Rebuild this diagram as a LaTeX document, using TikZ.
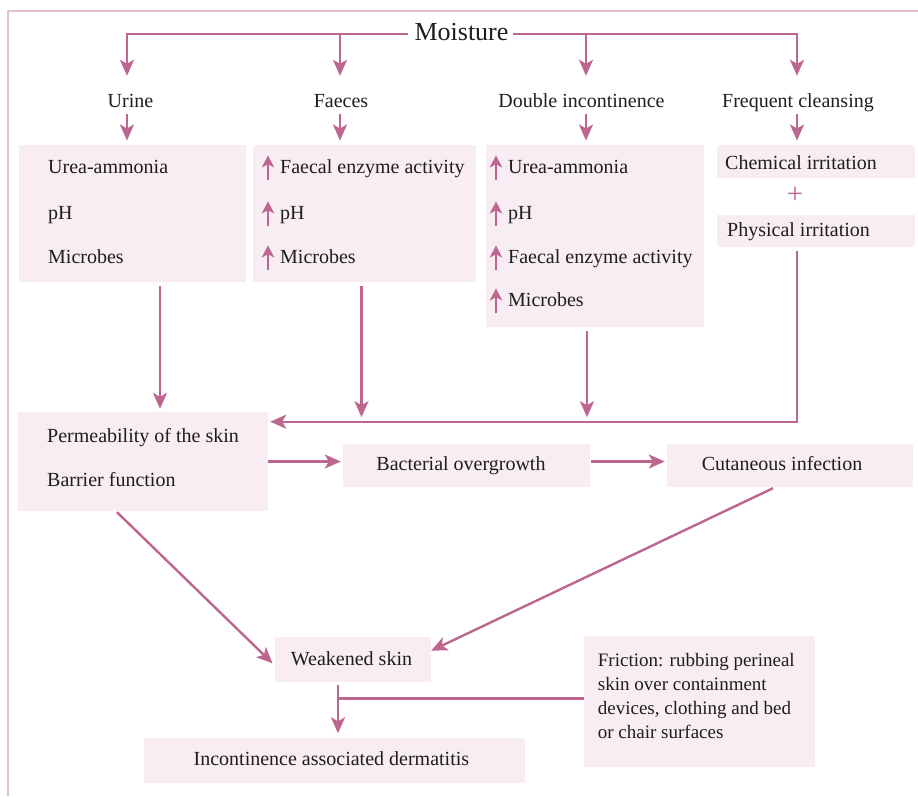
\documentclass[tikz,border=0pt]{standalone}
\usepackage{fontspec}
\setmainfont{Liberation Serif}
\usetikzlibrary{arrows.meta,calc}
\definecolor{pk}{HTML}{BC6690}
\definecolor{boxc}{HTML}{F7EDF3}
\definecolor{framec}{HTML}{E3BFD1}
\definecolor{ink}{HTML}{1E1E1E}
\begin{document}
\begin{tikzpicture}[x=1pt,y=-1pt,
  box/.style={fill=boxc, inner sep=0, draw=none},
  lbl/.style={font=\fontsize{20}{24}\selectfont, text=ink, inner sep=0, text height=14pt, text depth=5pt, anchor=base},
  item/.style={font=\fontsize{20}{24}\selectfont, text=ink, inner sep=0, anchor=base west},
  conn/.style={draw=pk, line width=2.4pt, -{Stealth[length=16pt,width=14pt,inset=4pt]}},
  plain/.style={draw=pk, line width=2.4pt},
  uparr/.style={draw=pk, line width=2.6pt, -{Stealth[length=12pt,width=12pt,inset=3pt]}},
]
\useasboundingbox (0,0) rectangle (918,796);
% frame
\draw[framec, line width=1.3pt] (8,796) -- (8,11) -- (918,11);

% boxes
\node[box, minimum width=227pt, minimum height=137pt] (b1) at (132.5,213.5) {};
\node[box, minimum width=223pt, minimum height=137pt] (b2) at (364.5,213.5) {};
\node[box, minimum width=218pt, minimum height=182pt] (b3) at (595,236) {};
\node[box, minimum width=198pt, minimum height=33pt] (chem) at (816,161.5) {};
\node[box, minimum width=198pt, minimum height=32pt] (phys) at (816,231) {};
\node[box, minimum width=250pt, minimum height=99pt] (perm) at (143,461.5) {};
\node[box, minimum width=247pt, minimum height=43pt] (bact) at (466.5,465.5) {};
\node[box, minimum width=246pt, minimum height=43pt] (cut) at (790,465.5) {};
\node[box, minimum width=156pt, minimum height=45pt] (weak) at (353,659.5) {};
\node[box, minimum width=231pt, minimum height=131pt] (fric) at (699.5,701.5) {};
\node[box, minimum width=381pt, minimum height=45pt] (iad) at (334.5,760.5) {};

% labels
\node[lbl, font=\fontsize{26}{30}\selectfont, text height=18pt, text depth=6pt] (m) at (461.5,40) {Moisture};
\node[lbl] (u) at (130.5,107) {Urine};
\node[lbl] (f) at (341,107) {Faeces};
\node[lbl] (d) at (581.5,107) {Double incontinence};
\node[lbl] (fc) at (798,107) {Frequent cleansing};

% box 1
\node[item] (a1) at (48,173.3) {Urea-ammonia};
\node[item] (a2) at (48,219.3) {pH};
\node[item] (a3) at (48,263.3) {Microbes};
% box 2
\node[item] (f1) at (280,173.3) {Faecal enzyme activity};
\node[item] (f2) at (280,219.3) {pH};
\node[item] (f3) at (280,263.3) {Microbes};
% box 3
\node[item] (d1) at (508,173.3) {Urea-ammonia};
\node[item] (d2) at (508,219.3) {pH};
\node[item] (d3) at (508,263.3) {Faecal enzyme activity};
\node[item] (d4) at (508,306.3) {Microbes};
\foreach \n in {f1,f2,f3,d1,d2,d3,d4}
  \draw[uparr] ($(\n.base west)+(-12,7)$) -- ($(\n.base west)+(-12,-18)$);

% cleansing
\node[item] (chemt) at (725,169.3) {Chemical irritation};
\node[text=pk, inner sep=0, font=\fontsize{29}{29}\selectfont] (plus) at (795,195.5) {+};
\node[item] (physt) at (727,236.7) {Physical irritation};

% lower texts
\node[item] (p1) at (47,442.3) {Permeability of the skin};
\node[item] (p2) at (47,486.7) {Barrier function};
\node[lbl] (bactt) at (461,470) {Bacterial overgrowth};
\node[lbl] (cutt) at (782,470) {Cutaneous infection};
\node[lbl] (weakt) at (351.5,665.7) {Weakened skin};
\node[lbl] (iadt) at (331.4,765.7) {Incontinence associated dermatitis};
\node[font=\fontsize{19}{24.2}\selectfont, text=ink, inner sep=0, anchor=north west, align=left] (frict) at (597.7,652.7)
  {Friction: rubbing perineal\\skin over containment\\devices, clothing and bed\\or chair surfaces};

% coordinates
\coordinate (c1) at (127,34);
\coordinate (c2) at (340,34);
\coordinate (c3) at (586,34);
\coordinate (c4) at (797,34);
\coordinate (x1) at (160,0);
\coordinate (x2) at (361.5,0);
\coordinate (x3) at (587,0);
\coordinate (hl) at (0,421.7);
\coordinate (x5) at (338,0);
\coordinate (fj) at (338,698.3);

% moisture connectors
\draw[conn, shorten <=6pt, shorten >=17pt] (m.west |- c1) -| (c1 |- u.north);
\draw[conn, shorten <=4.5pt, shorten >=17pt] (m.east |- c4) -| (c4 |- fc.north);
\draw[conn, shorten >=17pt] (c2) -- (c2 |- f.north);
\draw[conn, shorten >=17pt] (c3) -- (c3 |- d.north);

% label to box
\draw[conn, shorten <=2pt, shorten >=4.3pt] (u.south -| c1) -- (b1.north -| c1);
\draw[conn, shorten <=2pt, shorten >=4.3pt] (f.south -| c2) -- (b2.north -| c2);
\draw[conn, shorten <=2pt, shorten >=4.3pt] (d.south -| c3) -- (b3.north -| c3);
\draw[conn, shorten <=2pt, shorten >=4.3pt] (fc.south -| c4) -- (chem.north -| c4);

% boxes to permeability
\draw[conn, shorten <=4pt, shorten >=3pt] (b1.south -| x1) -- (perm.north -| x1);
\draw[conn, shorten <=4pt, shorten >=4.5pt] (b2.south -| x2) -- (x2 |- hl);
\draw[conn, shorten <=4pt, shorten >=4.5pt] (b3.south -| x3) -- (x3 |- hl);
\draw[conn, shorten <=3.5pt, shorten >=2pt] (phys.south -| c4) |- (perm.east |- hl);

% chain
\draw[conn, shorten >=2pt] (perm.east) -- (perm.east -| bact.west);
\draw[conn, shorten <=1pt, shorten >=2pt] (bact.east |- perm.east) -- (cut.west |- perm.east);
\draw[conn] ($(perm.south)+(-26,1)$) -- ($(weak.west)+(-2.3,3.8)$);
\draw[conn] ($(cut.south)+(-17,1)$) -- ($(weak.east)+(0,-8.8)$);
\draw[conn, shorten <=3pt, shorten >=4.5pt] (weak.south -| x5) -- (iad.north -| x5);
\draw[plain] (fric.west |- fj) -- (fj);
\end{tikzpicture}
\end{document}
